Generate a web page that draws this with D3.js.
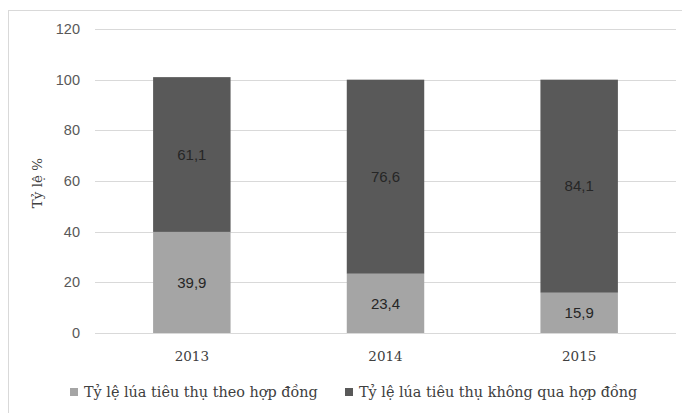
<!DOCTYPE html>
<html>
<head>
<meta charset="utf-8">
<script src="https://cdn.jsdelivr.net/npm/d3@7"></script>
<style>
  body { margin: 0; background: #fff; }
  svg { display: block; }
</style>
</head>
<body>
<svg id="chart" width="682" height="413"></svg>
<script>
// data
var years = ["2013", "2014", "2015"]
var contract = [39.9, 23.4, 15.9]
var noContract = [61.1, 76.6, 84.1]
var yTicks = [0, 20, 40, 60, 80, 100, 120]
var seriesNames = ["Tỷ lệ lúa tiêu thụ theo hợp đồng", "Tỷ lệ lúa tiêu thụ không qua hợp đồng"]
var colors = ["#a5a5a5", "#595959"]

var svg = d3.select("#chart")
var serif = "'DejaVu Serif', serif"
var sans = "'Liberation Sans', Arial, sans-serif"

// outer frame (cut off on the right and bottom)
svg.append("rect")
    .attr("x", 8.5).attr("y", 10.5)
    .attr("width", 700).attr("height", 420)
    .attr("fill", "none").attr("stroke", "#d9d9d9")

var plotLeft = 95, plotRight = 676, plotTop = 29, plotBottom = 333

var x = d3.scaleBand().domain(years).range([plotLeft, plotRight])
    .paddingInner(0.6).paddingOuter(0.3)
var y = d3.scaleLinear().domain([0, 120]).range([plotBottom, plotTop])

// gridlines
svg.append("g").selectAll("line")
    .data(yTicks)
    .enter().append("line")
    .attr("x1", plotLeft).attr("x2", plotRight)
    .attr("y1", d => Math.round(y(d)) + 0.5).attr("y2", d => Math.round(y(d)) + 0.5)
    .attr("stroke", "#d9d9d9")

// y tick labels
svg.append("g").selectAll("text")
    .data(yTicks)
    .enter().append("text")
    .attr("x", 80).attr("y", d => y(d))
    .attr("dy", "0.35em")
    .attr("text-anchor", "end")
    .attr("font-family", sans).attr("font-size", 14.5)
    .attr("fill", "#595959")
    .text(d => d)

// stacked bars
var rows = years.map((yr, i) => ({year: yr, a: contract[i], b: noContract[i]}))
var stack = d3.stack().keys(["a", "b"])(rows)

var layers = svg.append("g").selectAll("g")
    .data(stack)
    .enter().append("g")
    .attr("fill", (d, i) => colors[i])

layers.selectAll("rect")
    .data(d => d)
    .enter().append("rect")
    .attr("x", d => x(d.data.year))
    .attr("width", x.bandwidth())
    .attr("y", d => y(d[1]))
    .attr("height", d => y(d[0]) - y(d[1]))

layers.selectAll("text")
    .data(d => d)
    .enter().append("text")
    .attr("x", d => x(d.data.year) + x.bandwidth() / 2)
    .attr("y", d => y((d[0] + d[1]) / 2))
    .attr("dy", "0.35em")
    .attr("text-anchor", "middle")
    .attr("font-family", sans).attr("font-size", 15)
    .attr("fill", "#262626")
    .text(d => d3.format(".1f")(d[1] - d[0]).replace(".", ","))

// x labels
svg.append("g").selectAll("text")
    .data(years)
    .enter().append("text")
    .attr("x", d => x(d) + x.bandwidth() / 2)
    .attr("y", 356)
    .attr("dy", "0.35em")
    .attr("text-anchor", "middle")
    .attr("font-family", serif).attr("font-size", 13.5)
    .attr("fill", "#404040")
    .text(d => d)

// y axis title
svg.append("text")
    .attr("transform", "translate(37,183) rotate(-90)")
    .attr("dy", "0.35em")
    .attr("text-anchor", "middle")
    .attr("font-family", serif).attr("font-size", 13.5)
    .attr("fill", "#404040")
    .text("Tỷ lệ %")

// legend
var legendX = [70, 345]
var legend = svg.append("g").selectAll("g")
    .data(seriesNames)
    .enter().append("g")
    .attr("transform", (d, i) => "translate(" + legendX[i] + ",392)")

legend.append("rect")
    .attr("x", 0).attr("y", -4)
    .attr("width", 8).attr("height", 8)
    .attr("fill", (d, i) => colors[i])

legend.append("text")
    .attr("x", 14).attr("dy", "0.35em")
    .attr("font-family", serif).attr("font-size", 14.4)
    .attr("fill", "#404040")
    .text(d => d)
</script>
</body>
</html>
